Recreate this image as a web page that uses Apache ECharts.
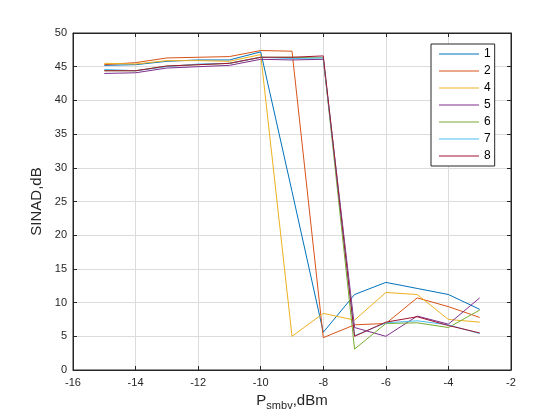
<!DOCTYPE html>
<html>
<head>
<meta charset="utf-8">
<script src="https://cdn.jsdelivr.net/npm/echarts@6/dist/echarts.min.js"></script>
<style>
  html, body { margin: 0; padding: 0; background: #fff; }
  #chart { width: 560px; height: 420px; }
</style>
</head>
<body>
<div id="chart"></div>
<script>
// P_smbv, dBm
var xData = [-15, -14, -13, -12, -11, -10, -9, -8, -7, -6, -5, -4, -3];
var names = ['1', '2', '4', '5', '6', '7', '8'];
var colors = ['#0072BD', '#D95319', '#EDB120', '#7E2F8E', '#77AC30', '#4DBEEE', '#A2142F'];
// SINAD, dB
var sinad1 = [45.2, 45.3, 45.8, 46.0, 46.0, 47.2, 26.5, 5.6, 11.2, 13.0, 12.1, 11.2, 9.0];
var sinad2 = [45.3, 45.6, 46.3, 46.4, 46.5, 47.4, 47.3, 4.8, 6.7, 6.9, 10.7, 9.4, 7.8];
var sinad4 = [45.5, 45.4, 45.9, 45.9, 45.8, 46.8, 5.0, 8.4, 7.4, 11.5, 11.2, 7.5, 7.1];
var sinad5 = [44.0, 44.1, 44.8, 45.0, 45.2, 46.1, 46.0, 46.1, 6.3, 5.0, 8.0, 6.8, 10.7];
var sinad6 = [44.4, 44.4, 45.1, 45.3, 45.5, 46.4, 46.4, 46.3, 3.1, 6.9, 7.0, 6.3, 8.9];
var sinad7 = [44.6, 44.4, 45.0, 45.4, 45.5, 46.4, 46.2, 46.3, 5.1, 7.0, 7.3, 6.7, 5.4];
var sinad8 = [44.4, 44.4, 45.1, 45.3, 45.5, 46.4, 46.4, 46.6, 5.0, 7.1, 7.9, 6.6, 5.5];
var allData = [sinad1, sinad2, sinad4, sinad5, sinad6, sinad7, sinad8];

var myChart = echarts.init(document.getElementById('chart'));
var axisColor = '#262626';
var font = 'Liberation Sans, Arial, sans-serif';

function makeSeries() {
    var list = [];
    for (var i = 0; i < names.length; i++) {
        var pts = [];
        for (var j = 0; j < xData.length; j++) {
            pts.push([xData[j], allData[i][j]]);
        }
        list.push({
            name: names[i],
            type: 'line',
            data: pts,
            symbol: 'none',
            lineStyle: {width: 1, color: colors[i]},
            itemStyle: {color: colors[i]},
            animation: false
        });
    }
    return list;
}

var option = {
    backgroundColor: '#fff',
    grid: {left: 73, right: 49, top: 33, bottom: 50, show: true, borderColor: axisColor, borderWidth: 1},
    legend: {
        orient: 'vertical',
        left: 431, top: 44,
        width: 63,
        padding: [3, 4, 3, 8],
        itemGap: 3,
        itemWidth: 40, itemHeight: 1,
        icon: 'rect',
        borderColor: axisColor, borderWidth: 1,
        backgroundColor: '#fff',
        textStyle: {color: '#000', fontSize: 12, fontFamily: font, lineHeight: 14},
        data: names
    },
    xAxis: [
        {
            type: 'value', min: -16, max: -2, interval: 2,
            name: '{p|P}{s|smbv}{n|,dBm}',
            nameLocation: 'middle', nameGap: 18,
            nameTextStyle: {
                color: axisColor, fontFamily: font,
                rich: {
                    p: {fontSize: 15, fontFamily: font, color: axisColor},
                    s: {fontSize: 11, fontFamily: font, color: axisColor, padding: [12, 0, 0, 0]},
                    n: {fontSize: 15, fontFamily: font, color: axisColor}
                }
            },
            axisLine: {show: true, onZero: false, lineStyle: {color: axisColor}},
            axisTick: {show: true, inside: true, length: 4, lineStyle: {color: axisColor}},
            axisLabel: {color: axisColor, fontSize: 11, fontFamily: font, margin: 7},
            splitLine: {show: true, lineStyle: {color: '#dcdcdc'}}
        },
        {
            type: 'value', min: -16, max: -2, interval: 2, position: 'top',
            axisLine: {show: true, onZero: false, lineStyle: {color: axisColor}},
            axisTick: {show: true, inside: true, length: 4, lineStyle: {color: axisColor}},
            axisLabel: {show: false},
            splitLine: {show: false}
        }
    ],
    yAxis: [
        {
            type: 'value', min: 0, max: 50, interval: 5,
            name: 'SINAD,dB',
            nameLocation: 'middle', nameGap: 17,
            nameTextStyle: {color: axisColor, fontSize: 15, fontFamily: font},
            axisLine: {show: true, onZero: false, lineStyle: {color: axisColor}},
            axisTick: {show: true, inside: true, length: 4, lineStyle: {color: axisColor}},
            axisLabel: {color: axisColor, fontSize: 11, fontFamily: font, margin: 6},
            splitLine: {show: true, lineStyle: {color: '#dcdcdc'}}
        },
        {
            type: 'value', min: 0, max: 50, interval: 5, position: 'right',
            axisLine: {show: true, onZero: false, lineStyle: {color: axisColor}},
            axisTick: {show: true, inside: true, length: 4, lineStyle: {color: axisColor}},
            axisLabel: {show: false},
            splitLine: {show: false}
        }
    ],
    series: makeSeries()
};
myChart.setOption(option);
</script>
</body>
</html>
